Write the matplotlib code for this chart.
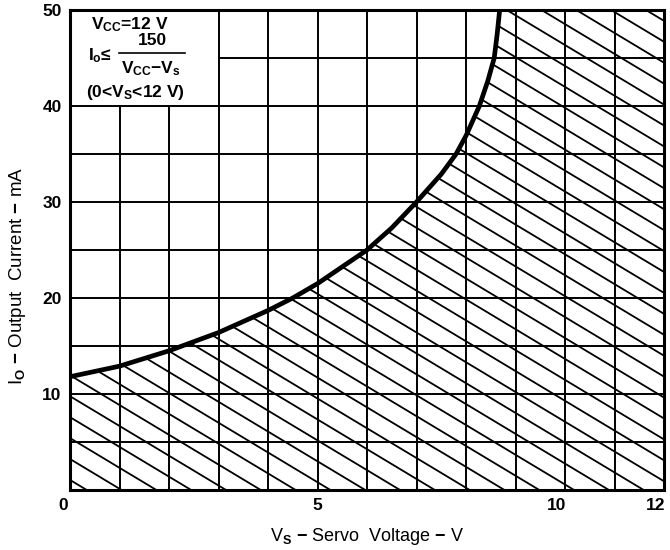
import numpy as np
import matplotlib
matplotlib.use("Agg")
import matplotlib.pyplot as plt
from matplotlib.patches import Polygon
from matplotlib.transforms import ScaledTranslation

plt.rcParams['font.family'] = ['Liberation Sans', 'DejaVu Sans']
plt.rcParams['font.weight'] = 'bold'
plt.rcParams['mathtext.fontset'] = 'custom'
plt.rcParams['mathtext.rm'] = 'Liberation Sans:bold'
plt.rcParams['mathtext.it'] = 'Liberation Sans:bold'
plt.rcParams['mathtext.bf'] = 'Liberation Sans:bold'
plt.rcParams['mathtext.sf'] = 'Liberation Sans:bold'

# ---- data ----
vs_curve = [0, 1, 2, 3, 4, 4.5, 5, 6.0, 6.5, 7.0, 7.5, 7.8, 8.0, 8.27, 8.44, 8.57, 8.63, 8.68]
io_curve = [11.8, 12.9, 14.5, 16.4, 18.7, 20.0, 21.5, 25.0, 27.3, 30.0, 32.9, 35.0, 36.9, 40.0, 42.6, 45.0, 47.5, 50.0]
x_ticks = [0, 5, 10, 12]
x_ticklabels = ['0', '5', '10', '12']
y_ticks = [10, 20, 30, 40, 50]
y_ticklabels = ['10', '20', '30', '40', '50']
x_max, y_max = 12, 50

fig = plt.figure(figsize=(6.7, 5.5), dpi=100)
ax = fig.add_axes([70/670, 60/550, 594/670, 480/550])
ax.set_xlim(0, x_max)
ax.set_ylim(0, y_max)

# hatched (allowed) region under the curve
poly_pts = [(0, 0)] + list(zip(vs_curve, io_curve)) + [(x_max, y_max), (x_max, 0)]
region = Polygon(poly_pts, closed=True, facecolor='none', edgecolor='none')
ax.add_patch(region)
k = 3.1      # hatch slope (mA per V)
sp = 2.18    # hatch spacing (mA)
for c in np.arange(1.05 - 20 * sp, y_max + k * x_max + sp, sp):
    ln, = ax.plot([0, x_max], [c, c - k * x_max], color='black', lw=1.3, zorder=2)
    ln.set_clip_path(region)

# grid (box area top-left left clear)
for xv in range(1, x_max):
    top = 40 if xv < 3 else y_max
    ax.plot([xv, xv], [0, top], color='black', lw=1.4, zorder=3)
for yv in range(5, y_max, 5):
    left = 3 if yv > 40 else 0
    ax.plot([left, x_max], [yv, yv], color='black', lw=1.4, zorder=3)

# limit curve
ax.plot(vs_curve, io_curve, color='black', lw=3.4, zorder=5, solid_capstyle='butt')

# annotation box text
fs = 12.5
ax.text(1.2, 48.5, r'V$_{\mathrm{CC}}$=12 V', ha='center', va='center', fontsize=fs, zorder=6)
ax.text(0.36, 45.2, r'I$_{\mathrm{o}}$≤', ha='left', va='center', fontsize=fs, zorder=6)
ax.text(1.66, 46.8, '150', ha='center', va='center', fontsize=fs, zorder=6)
ax.plot([0.98, 2.32], [45.5, 45.5], color='black', lw=1.2, zorder=6)
ax.text(1.64, 43.9, r'V$_{\mathrm{CC}}$$-$V$_{\mathrm{s}}$', ha='center', va='center', fontsize=fs, zorder=6)
ax.text(1.33, 41.4, r'(0<V$_{\mathrm{S}}$<12 V)', ha='center', va='center', fontsize=fs, zorder=6)

for s in ax.spines.values():
    s.set_linewidth(2.2)
    s.set_zorder(7)

ax.set_xticks(x_ticks)
ax.set_xticklabels(x_ticklabels, fontsize=12.5, fontweight='bold')
ax.set_yticks(y_ticks)
ax.set_yticklabels(y_ticklabels, fontsize=12.5, fontweight='bold')
ax.tick_params(length=0, pad=6)
xl = ax.get_xticklabels()
xl[0].set_transform(xl[0].get_transform() + ScaledTranslation(-7/100, 0, fig.dpi_scale_trans))
xl[2].set_transform(xl[2].get_transform() + ScaledTranslation(-8/100, 0, fig.dpi_scale_trans))
xl[3].set_transform(xl[3].get_transform() + ScaledTranslation(-8/100, 0, fig.dpi_scale_trans))
ax.set_xlabel(r'V$_{\mathrm{S}}$ $-$ Servo  Voltage $-$ V', fontsize=13)
ax.xaxis.set_label_coords(0.5, -0.075)
ax.set_ylabel(r'I$_{\mathrm{O}}$ $-$ Output  Current $-$ mA', fontsize=13.5)
ax.yaxis.set_label_coords(-0.07, 0.445)

fig.savefig('out.png', dpi=100, facecolor='white')
